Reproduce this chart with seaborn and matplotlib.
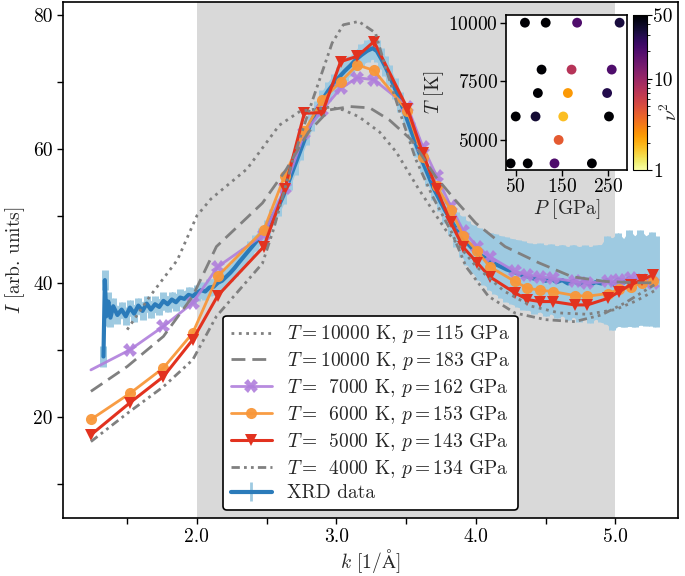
import numpy as np
import matplotlib
matplotlib.use("Agg")
import matplotlib.pyplot as plt
from matplotlib.colors import LogNorm
from matplotlib.ticker import MultipleLocator, FixedLocator, FormatStrFormatter
import seaborn as sns

# simulated structure factors (markers share one k grid)
k_sim = [1.24, 1.52, 1.76, 1.97, 2.15, 2.48, 2.63, 2.77, 2.90, 3.03,
         3.15, 3.27, 3.51, 3.62, 3.72, 3.82, 3.91, 4.01, 4.10, 4.28,
         4.37, 4.46, 4.55, 4.71, 4.80, 4.95, 5.03, 5.11, 5.19, 5.27]
I_7000 = [27.0, 30.0, 33.5, 37.0, 42.4, 47.2, 54.1, 62.3, 65.8, 69.0,
          70.6, 70.3, 66.3, 60.3, 55.9, 51.4, 47.8, 45.4, 43.9, 41.7,
          41.2, 40.9, 40.7, 40.2, 40.0, 40.2, 40.4, 40.7, 40.4, 40.0]
I_6000 = [19.6, 23.5, 27.3, 32.5, 41.0, 47.9, 56.0, 62.6, 67.3, 70.0,
          72.5, 71.7, 65.6, 58.8, 54.4, 50.9, 47.0, 44.7, 42.4, 40.2,
          39.2, 38.9, 38.7, 38.1, 38.0, 38.4, 39.0, 39.4, 40.0, 40.2]
I_5000 = [17.3, 22.1, 26.0, 31.5, 38.1, 45.4, 54.0, 65.3, 65.4, 73.0,
          73.8, 76.0, 66.0, 59.3, 54.0, 49.0, 45.3, 43.0, 40.9, 38.5,
          37.5, 37.2, 37.2, 36.7, 36.7, 37.7, 38.7, 39.7, 40.4, 41.2]

# grey curves without markers
k_10000_115 = [1.50, 1.66, 1.86, 2.00, 2.10, 2.36, 2.59, 2.74, 2.95, 3.05, 3.16, 3.31,
               3.43, 3.59, 3.78, 4.00, 4.20, 4.40, 4.60, 4.80, 5.00, 5.15, 5.28]
I_10000_115 = [33.0, 37.9, 43.4, 50.0, 52.5, 57.0, 63.5, 65.6, 66.2, 65.8, 64.8, 62.5,
               59.5, 54.0, 48.0, 42.5, 38.8, 36.5, 35.5, 35.3, 36.0, 37.3, 38.8]
k_10000_183 = [1.24, 1.50, 1.76, 1.97, 2.14, 2.47, 2.64, 2.80, 2.95, 3.10, 3.24,
               3.38, 3.54, 3.71, 3.85, 4.00, 4.21, 4.45, 4.69, 4.93, 5.16, 5.29]
I_10000_183 = [23.8, 27.5, 32.0, 38.0, 45.4, 51.9, 56.9, 62.5, 65.8, 66.3, 66.1,
               64.3, 61.3, 55.9, 52.4, 48.9, 45.4, 43.0, 40.9, 40.2, 40.0, 40.0]
k_4000 = [1.24, 1.50, 1.76, 1.97, 2.14, 2.47, 2.55, 2.69, 2.83, 2.97, 3.05, 3.16, 3.28,
          3.35, 3.45, 3.57, 3.69, 3.83, 3.93, 4.09, 4.28, 4.50, 4.71, 4.90, 5.07, 5.28]
I_4000 = [16.3, 20.5, 24.5, 28.5, 35.0, 42.9, 48.0, 58.5, 67.3, 75.8, 78.5, 79.0, 77.3,
          72.3, 65.8, 58.4, 52.9, 47.4, 42.4, 38.0, 35.5, 34.5, 34.2, 35.2, 37.0, 39.7]

# XRD measurement
k_xrd = [1.33, 1.34, 1.35, 1.365, 1.38, 1.40, 1.43, 1.46,
         1.49, 1.52, 1.55, 1.58, 1.61, 1.64, 1.67, 1.70,
         1.73, 1.76, 1.79, 1.82, 1.85, 1.88, 1.91, 1.94,
         1.97, 2.00, 2.03, 2.06, 2.09, 2.12, 2.15, 2.18,
         2.21, 2.24, 2.27, 2.30, 2.34, 2.38, 2.42, 2.46,
         2.50, 2.54, 2.58, 2.62, 2.66, 2.70, 2.74, 2.78,
         2.82, 2.86, 2.90, 2.94, 2.98, 3.02, 3.06, 3.10,
         3.14, 3.18, 3.22, 3.26, 3.29, 3.32, 3.35, 3.38,
         3.42, 3.46, 3.50, 3.54, 3.58, 3.62, 3.66, 3.70,
         3.74, 3.78, 3.82, 3.86, 3.90, 3.94, 3.98, 4.02,
         4.06, 4.10, 4.14, 4.18, 4.22, 4.26, 4.30, 4.34,
         4.38, 4.42, 4.46, 4.50, 4.54, 4.58, 4.62, 4.66,
         4.70, 4.74, 4.78, 4.82, 4.86, 4.90, 4.94, 4.98,
         5.02, 5.06, 5.10, 5.14, 5.18, 5.22, 5.26, 5.29]
I_xrd = [29.0, 40.4, 35.0, 37.2, 34.8, 36.5, 35.2, 36.0,
         35.0, 36.3, 35.4, 36.6, 35.8, 36.9, 36.0, 36.8,
         36.4, 37.3, 36.8, 37.5, 37.1, 37.8, 37.6, 38.2,
         38.0, 38.5, 38.9, 38.7, 39.3, 39.4, 40.0, 40.3,
         40.9, 41.5, 42.2, 43.0, 44.0, 45.0, 46.0, 47.0,
         48.2, 49.8, 51.2, 53.0, 55.2, 57.4, 59.6, 61.8,
         64.0, 65.8, 67.3, 68.6, 69.7, 70.7, 71.6, 72.4,
         73.3, 74.0, 74.6, 75.0, 74.6, 73.5, 72.3, 71.0,
         69.0, 67.0, 64.8, 62.5, 60.2, 58.0, 56.0, 54.0,
         52.4, 50.8, 49.4, 48.0, 46.9, 45.9, 45.0, 44.3,
         43.8, 43.2, 42.8, 42.4, 42.0, 41.7, 41.4, 41.1,
         40.9, 40.6, 40.8, 40.3, 40.6, 40.1, 40.4, 39.9,
         40.3, 39.8, 40.2, 39.7, 40.1, 39.9, 40.4, 39.8,
         40.5, 40.0, 40.7, 40.2, 40.8, 40.3, 40.6, 40.2]
err_xrd = [1.5, 1.5, 1.5, 1.4, 1.4, 1.3, 1.3, 1.2,
           1.3, 1.2, 1.3, 1.2, 1.3, 1.2, 1.3, 1.2,
           1.2, 1.3, 1.2, 1.2, 1.3, 1.2, 1.2, 1.2,
           1.2, 1.2, 1.2, 1.2, 1.2, 1.2, 1.2, 1.2,
           1.2, 1.2, 1.2, 1.2, 1.2, 1.2, 1.2, 1.2,
           1.2, 1.2, 1.3, 1.3, 1.3, 1.3, 1.3, 1.3,
           1.3, 1.4, 1.4, 1.4, 1.4, 1.5, 1.5, 1.5,
           1.5, 1.6, 1.6, 1.6, 1.6, 1.6, 1.5, 1.5,
           1.5, 1.5, 1.5, 1.5, 1.5, 1.5, 1.5, 1.6,
           1.7, 1.9, 2.2, 2.6, 3.0, 3.3, 3.6, 3.9,
           4.1, 4.3, 4.5, 4.6, 4.8, 4.9, 5.0, 5.1,
           5.0, 5.2, 5.1, 5.3, 5.2, 5.4, 5.3, 5.5,
           5.4, 5.6, 5.4, 5.7, 5.5, 5.8, 6.6, 6.9,
           7.0, 6.6, 7.2, 6.8, 7.1, 6.7, 7.0, 6.8]

# inset: state points coloured by nu^2
P_pts = [70, 115, 183, 275, 106, 171, 258, 98, 163, 248, 50, 93, 153, 252, 143, 39, 76, 134, 215]
T_pts = [10000, 10000, 10000, 10000, 8000, 8000, 8000, 7000, 7000, 7000,
         6000, 6000, 6000, 6000, 5000, 4000, 4000, 4000, 4000]
nu2_pts = [50, 50, 20, 33, 50, 7.5, 20, 50, 2.4, 30, 50, 35, 1.8, 50, 4.3, 50, 50, 20, 50]

sns.set_style("ticks")
plt.rcParams["font.family"] = ["cmr10", "DejaVu Serif"]
plt.rcParams["mathtext.fontset"] = "cm"
plt.rcParams["axes.formatter.use_mathtext"] = True
plt.rcParams["axes.unicode_minus"] = False
plt.rcParams["font.size"] = 14
plt.rcParams["axes.edgecolor"] = "black"
plt.rcParams["xtick.color"] = "black"
plt.rcParams["ytick.color"] = "black"

fs = 14
fig = plt.figure(figsize=(6.85, 5.76), dpi=100)
ax = fig.add_axes([0.092, 0.1007, 0.8978, 0.8958])

ax.axvspan(2.0, 5.0, color="#d9d9d9", lw=0, zorder=0)

grey = "#808080"
sns.lineplot(x=k_10000_115, y=I_10000_115, ax=ax, color=grey, lw=2, ls=":",
             label=r"$T=10000$ K, $p=115$ GPa", zorder=4)
sns.lineplot(x=k_10000_183, y=I_10000_183, ax=ax, color=grey, lw=2, dashes=False,
             linestyle=(0, (5, 2.5)), label=r"$T=10000$ K, $p=183$ GPa", zorder=4)
sns.lineplot(x=k_sim, y=I_7000, ax=ax, color="#b07fdc", lw=2, marker="X", markersize=10,
             markeredgewidth=0, markevery=list(range(1, len(k_sim))), alpha=0.9,
             label=r"$T=\enspace7000$ K, $p=162$ GPa", zorder=3)
sns.lineplot(x=k_sim, y=I_6000, ax=ax, color="#f8973a", lw=2, marker="o", markersize=8,
             markeredgewidth=0, alpha=0.95,
             label=r"$T=\enspace6000$ K, $p=153$ GPa", zorder=3)
sns.lineplot(x=k_sim, y=I_5000, ax=ax, color="#e2321f", lw=2.2, marker="v", markersize=9,
             markeredgewidth=0,
             label=r"$T=\enspace5000$ K, $p=143$ GPa", zorder=3)
sns.lineplot(x=k_4000, y=I_4000, ax=ax, color=grey, lw=2,
             linestyle=(0, (3, 1.5, 1, 1.5, 1, 1.5)),
             label=r"$T=\enspace4000$ K, $p=134$ GPa", zorder=4)

ax.fill_between(k_xrd, np.array(I_xrd) - np.array(err_xrd), np.array(I_xrd) + np.array(err_xrd),
                color="#9ecae1", lw=0, zorder=1.5)
ax.errorbar(k_xrd, I_xrd, yerr=err_xrd, color="#2b7bba", ecolor="#9ecae1", elinewidth=5,
            lw=3, capsize=0, zorder=2)
# legend proxy with a thin error bar, as in the original key
xrd_key = ax.errorbar([np.nan], [np.nan], yerr=[1.0], color="#2b7bba", ecolor="#9ecae1",
                      elinewidth=2, lw=3, capsize=0, label="XRD data")

ax.set_xlim(1.04, 5.45)
ax.set_ylim(4.9, 81.9)
ax.xaxis.set_major_locator(FixedLocator([2, 3, 4, 5]))
ax.xaxis.set_major_formatter(FormatStrFormatter("%.1f"))
ax.xaxis.set_minor_locator(FixedLocator([1.5, 2.5, 3.5, 4.5]))
ax.yaxis.set_major_locator(MultipleLocator(20))
ax.yaxis.set_major_formatter(FormatStrFormatter("%d"))
ax.yaxis.set_minor_locator(FixedLocator([10, 30, 50, 70]))
ax.tick_params(which="both", length=4, width=1, direction="out", labelsize=fs)
ax.tick_params(axis="x", pad=3)
for s in ax.spines.values():
    s.set_linewidth(1.2)
ax.set_xlabel(r"$k$ $[1/\mathrm{\AA}]$", fontsize=fs, labelpad=1)
ax.set_ylabel(r"$I$ [arb. units]", fontsize=fs)

handles, labels = ax.get_legend_handles_labels()
order = [r"$T=10000$ K, $p=115$ GPa", r"$T=10000$ K, $p=183$ GPa",
         r"$T=\enspace7000$ K, $p=162$ GPa", r"$T=\enspace6000$ K, $p=153$ GPa",
         r"$T=\enspace5000$ K, $p=143$ GPa", r"$T=\enspace4000$ K, $p=134$ GPa", "XRD data"]
hmap = dict(zip(labels, handles))
leg = ax.legend([hmap[l] for l in order], order, loc="lower center", fontsize=fs,
                frameon=True, framealpha=1, edgecolor="black", fancybox=True,
                handlelength=2.1, labelspacing=0.25, borderaxespad=0.4)
leg.get_frame().set_linewidth(1.2)
leg.set_zorder(6)

# inset phase diagram
axi = fig.add_axes([0.7387, 0.7049, 0.1766, 0.2691])
axi.set_facecolor("white")
sc = axi.scatter(P_pts, T_pts, c=nu2_pts, cmap="inferno_r", norm=LogNorm(1, 50), s=50, lw=0)
axi.set_xlim(29, 291)
axi.set_ylim(3718, 10329)
axi.set_xticks([50, 150, 250])
axi.set_yticks([5000, 7500, 10000])
axi.tick_params(length=4, width=1, labelsize=fs, pad=2)
axi.set_xlabel(r"$P$ [GPa]", fontsize=fs, labelpad=1)
axi.set_ylabel(r"$T$ [K]", fontsize=fs, labelpad=1)
for s in axi.spines.values():
    s.set_linewidth(1.2)

cax = fig.add_axes([0.9241, 0.7049, 0.0204, 0.2691])
cb = fig.colorbar(sc, cax=cax)
cb.set_ticks([1, 10, 50])
cb.set_ticklabels(["1", "10", "50"])
cb.ax.tick_params(labelsize=fs, pad=1)
cb.set_label(r"$\nu^2$", fontsize=fs)
cb.ax.yaxis.set_label_coords(1.9, 0.38)

fig.savefig("out.png", dpi=100)
